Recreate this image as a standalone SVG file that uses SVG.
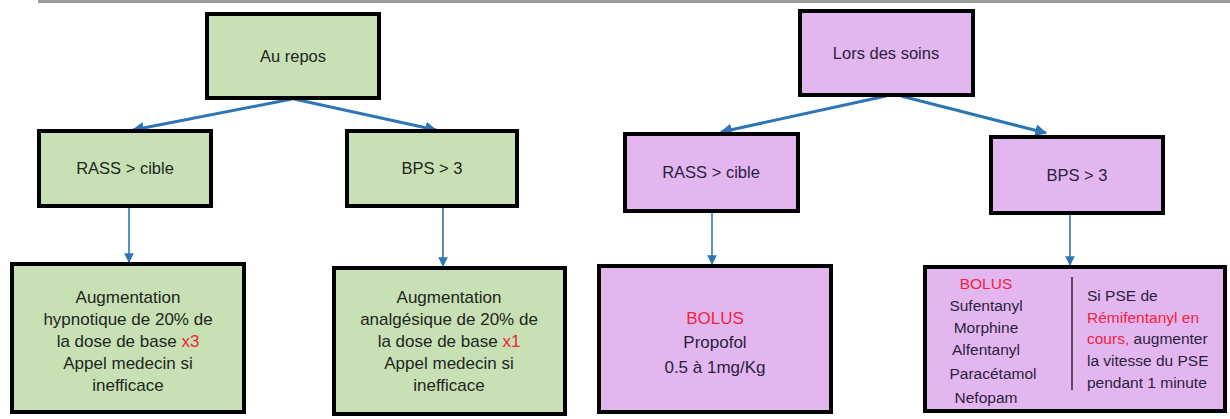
<svg xmlns="http://www.w3.org/2000/svg" width="1230" height="419" viewBox="0 0 1230 419">
<defs>
<style>
.g{fill:#c7e0b4;stroke:#000;stroke-width:4}
.p{fill:#e3b6ef;stroke:#000;stroke-width:4}
text{font-family:"Liberation Sans",Arial,sans-serif;text-anchor:middle}
.tg{fill:#1e261e}
.tp{fill:#2a1f3d}
.h{font-size:16.5px}
.b{font-size:17px}
.s{font-size:15.5px}
.r{fill:#f0243a}
.a1{stroke:#2e75b6;stroke-width:3;fill:none}
.a2{stroke:#2e75b6;stroke-width:1.6;fill:none}
</style>
<marker id="ah" viewBox="0 0 10 10" refX="9" refY="5" markerWidth="4" markerHeight="4" orient="auto" markerUnits="strokeWidth">
<path d="M0,0 L10,5 L0,10 z" fill="#2e75b6"/>
</marker>
<marker id="ah2" viewBox="0 0 10 10" refX="9" refY="5" markerWidth="6" markerHeight="6" orient="auto" markerUnits="strokeWidth">
<path d="M0,0 L10,5 L0,10 z" fill="#2e75b6"/>
</marker>
</defs>
<rect x="0" y="0" width="1230" height="419" fill="#fff"/>
<rect x="38" y="0" width="1192" height="3" fill="#9a9a9a"/>

<g id="connectors">
<line class="a1" x1="292" y1="99" x2="133" y2="130" marker-end="url(#ah)"/>
<line class="a1" x1="294" y1="99" x2="436" y2="130" marker-end="url(#ah)"/>
<line class="a1" x1="886" y1="96" x2="721" y2="132" marker-end="url(#ah)"/>
<line class="a1" x1="901" y1="96" x2="1046" y2="133" marker-end="url(#ah)"/>
<line class="a2" x1="129" y1="208" x2="129" y2="262" marker-end="url(#ah2)"/>
<line class="a2" x1="443" y1="208" x2="443" y2="266" marker-end="url(#ah2)"/>
<line class="a2" x1="712" y1="213" x2="712" y2="264" marker-end="url(#ah2)"/>
<line class="a2" x1="1070" y1="215" x2="1070" y2="265" marker-end="url(#ah2)"/>
</g>

<g id="au-repos">
<rect class="g" x="207" y="14" width="172" height="84"/>
<text class="tg h" x="293" y="62">Au repos</text>
</g>
<g id="lors-des-soins">
<rect class="p" x="800" y="11" width="173" height="84"/>
<text class="tp h" x="886" y="59">Lors des soins</text>
</g>
<g id="rass-left">
<rect class="g" x="39" y="131" width="172" height="75"/>
<text class="tg h" x="125" y="174">RASS &gt; cible</text>
</g>
<g id="bps-left">
<rect class="g" x="347" y="131" width="170" height="75"/>
<text class="tg h" x="432" y="174">BPS &gt; 3</text>
</g>
<g id="rass-right">
<rect class="p" x="625" y="134" width="173" height="77"/>
<text class="tp h" x="711" y="178">RASS &gt; cible</text>
</g>
<g id="bps-right">
<rect class="p" x="991" y="137" width="172" height="76"/>
<text class="tp h" x="1077" y="181">BPS &gt; 3</text>
</g>

<g id="hypnotique">
<rect class="g" x="12" y="264" width="232" height="148"/>
<text class="tg b" x="128" y="303">Augmentation</text>
<text class="tg b" x="128" y="325">hypnotique de 20% de</text>
<text class="tg b" x="128" y="347">la dose de base <tspan class="r">x3</tspan></text>
<text class="tg b" x="128" y="369">Appel medecin si</text>
<text class="tg b" x="128" y="391">inefficace</text>
</g>
<g id="analgesique">
<rect class="g" x="334" y="268" width="231" height="146"/>
<text class="tg b" x="449" y="303">Augmentation</text>
<text class="tg b" x="449" y="325">analgésique de 20% de</text>
<text class="tg b" x="449" y="347">la dose de base <tspan class="r">x1</tspan></text>
<text class="tg b" x="449" y="369">Appel medecin si</text>
<text class="tg b" x="449" y="391">inefficace</text>
</g>
<g id="propofol">
<rect class="p" x="599" y="266" width="232" height="146"/>
<text class="b r" x="715" y="324">BOLUS</text>
<text class="tp b" x="715" y="348">Propofol</text>
<text class="tp b" x="715" y="373">0.5 à 1mg/Kg</text>
</g>
<g id="bolus-bps">
<rect class="p" x="925" y="267" width="300" height="144"/>
<text class="s r" x="986" y="289">BOLUS</text>
<text class="tp s" x="986" y="311">Sufentanyl</text>
<text class="tp s" x="986" y="333">Morphine</text>
<text class="tp s" x="986" y="355">Alfentanyl</text>
<text class="tp s" x="993" y="379">Paracétamol</text>
<text class="tp s" x="986" y="403">Nefopam</text>
<line x1="1072" y1="277" x2="1072" y2="390" stroke="#3a2030" stroke-width="1.5"/>
<text class="tp s" x="1087" y="301" style="text-anchor:start">Si PSE de</text>
<text class="s r" x="1087" y="323" style="text-anchor:start">Rémifentanyl en</text>
<text class="tp s" x="1087" y="344" style="text-anchor:start"><tspan class="r">cours,</tspan> augmenter</text>
<text class="tp s" x="1087" y="366" style="text-anchor:start">la vitesse du PSE</text>
<text class="tp s" x="1087" y="388" style="text-anchor:start">pendant 1 minute</text>
</g>
</svg>
